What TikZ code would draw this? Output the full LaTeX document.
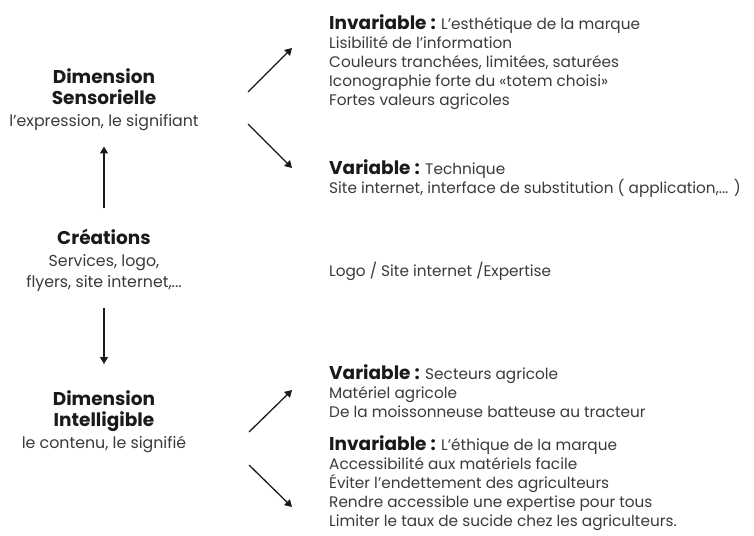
\documentclass[tikz,border=0pt]{standalone}
\usepackage{fontspec}
\setmainfont{Poppins}
\usepackage{tikz}
\usetikzlibrary{arrows.meta,positioning}
\definecolor{ink}{HTML}{1A1A1A}
\definecolor{inksoft}{HTML}{3A3A3A}
\newcommand{\headfont}{\fontsize{18.5}{21}\selectfont\bfseries\color{ink}}
\tikzset{
  dimbox/.style={align=center,inner sep=0pt,anchor=north,text=inksoft,
    font=\fontsize{15.8}{21.5}\selectfont},
  listbox/.style={align=left,inner sep=0pt,anchor=north west,text=inksoft,
    font=\fontsize{15.3}{19}\selectfont},
  dimarr/.style={-{Triangle[length=7pt,width=8pt]},line width=1.3pt,color=ink},
}

\begin{document}
\begin{tikzpicture}[x=1pt,y=-1pt]
  \useasboundingbox (0,0) rectangle (754,535);

  % left column
  \node[dimbox] (sens) at (104,68) {{\headfont Dimension}\\{\headfont Sensorielle}\\l'expression, le signifiant};
  \node[dimbox] (crea) at (104,229) {{\headfont Créations}\\Services, logo,\\flyers, site internet,...};
  \node[dimbox] (intel) at (104,390) {{\headfont Dimension}\\{\headfont Intelligible}\\le contenu, le signifié};

  % right column
  \node[listbox] (invsens) at (329,14) {{\headfont Invariable :} L'esthétique de la marque\\
    Lisibilité de l'information\\Couleurs tranchées, limitées, saturées\\
    Iconographie forte du «totem choisi»\\Fortes valeurs agricoles};
  \node[listbox] (varsens) at (329,159) {{\headfont Variable :} Technique\\
    Site internet, interface de substitution ( application,... )};
  \node[listbox] (logo) at (329,262) {Logo / Site internet /Expertise};
  \node[listbox] (varintel) at (329,364) {{\headfont Variable :} Secteurs agricole\\
    Matériel agricole\\De la moissonneuse batteuse au tracteur};
  \node[listbox] (invintel) at (329,435) {{\headfont Invariable :} L'éthique de la marque\\
    Accessibilité aux matériels facile\\Éviter l'endettement des agriculteurs\\
    Rendre accessible une expertise pour tous\\Limiter le taux de sucide chez les agriculteurs.};

  % arrow ends
  \coordinate (sensa) at (248,92);
  \coordinate (sensb) at (292,48);
  \coordinate (sensc) at (248,124);
  \coordinate (sensd) at (292,168);
  \coordinate (intela) at (249,432);
  \coordinate (intelb) at (292,390);
  \coordinate (intelc) at (249,465);
  \coordinate (inteld) at (292,507);

  \draw[dimarr,shorten <=21pt,shorten >=16pt] (crea.north) -- (sens.south);
  \draw[dimarr,shorten <=16pt,shorten >=26pt] (crea.south) -- (intel.north);
  \draw[dimarr] (sensa) -- (sensb);
  \draw[dimarr] (sensc) -- (sensd);
  \draw[dimarr] (intela) -- (intelb);
  \draw[dimarr] (intelc) -- (inteld);
\end{tikzpicture}
\end{document}
